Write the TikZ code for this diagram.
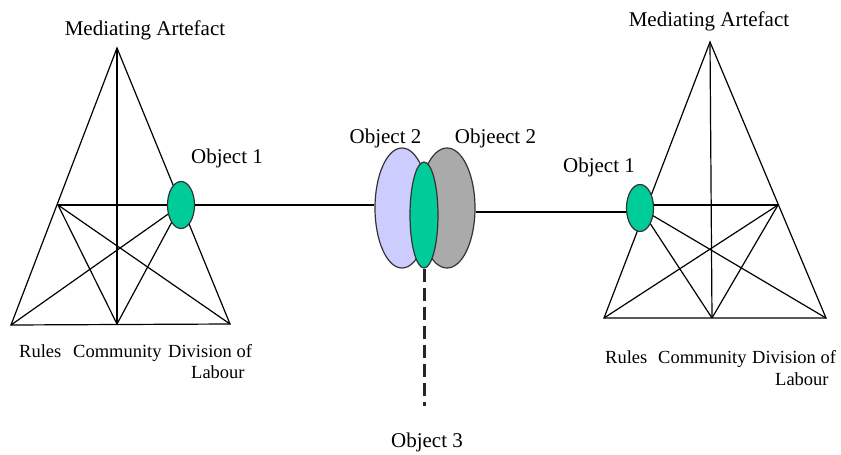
\documentclass[tikz,border=0pt]{standalone}
\usepackage{fontspec}
\setmainfont{Liberation Serif}
\newfontfamily\tnr{Liberation Serif}
\usetikzlibrary{shapes.geometric}
\definecolor{objgreen}{RGB}{0,204,153}
\definecolor{lav}{RGB}{204,204,255}
\definecolor{gry}{RGB}{170,170,170}
\begin{document}
\begin{tikzpicture}[x=1pt,y=-1pt,
  ln/.style={line width=1.2pt, black},
  ell/.style={ellipse, draw=black!80, line width=1.2pt, inner sep=0pt},
  obj/.style={ell, fill=objgreen, minimum width=27pt, minimum height=47pt},
  big/.style={font=\tnr\fontsize{21}{24}\selectfont, inner sep=0pt, anchor=base},
  small/.style={font=\tnr\fontsize{18.5}{22}\selectfont, inner sep=0pt, anchor=base west}]
\useasboundingbox (0,0) rectangle (841,455);

% ---- left triangle
\coordinate (A1) at (117,48);
\coordinate (R1) at (11,325);
\coordinate (C1) at (117,324);
\coordinate (D1) at (230,324);
\coordinate (S1) at (58,205);
\coordinate (o1) at (181,205);
\draw[ln] (A1) -- (R1) -- (D1) -- cycle;
\draw[ln] (A1) -- (C1);
\draw[ln] (S1) -- (o1);
\draw[ln] (S1) -- (C1);
\draw[ln] (S1) -- (D1);
\draw[ln] (R1) -- (o1);
\draw[ln] (C1) -- (o1);
\node[obj] (O1) at (o1) {};

% ---- right triangle
\coordinate (A2) at (710,42);
\coordinate (R2) at (604,318);
\coordinate (C2) at (712,318);
\coordinate (D2) at (826,318);
\coordinate (S2) at (778,205);
\coordinate (o2) at (640,208);
\draw[ln] (A2) -- (R2) -- (D2) -- cycle;
\draw[ln] (A2) -- (C2);
\draw[ln] (o2 |- S2) -- (S2);
\draw[ln] (S2) -- (R2);
\draw[ln] (S2) -- (C2);
\draw[ln] (o2) -- (C2);
\draw[ln] (o2) -- (D2);
\node[obj] (O2) at (o2) {};

% ---- centre
\node[ell, fill=lav, minimum width=54pt, minimum height=120pt] (L2) at (402,208) {};
\node[ell, fill=gry, minimum width=56pt, minimum height=120pt] (G2) at (447,208) {};
\node[ell, fill=objgreen, minimum width=28pt, minimum height=106pt] (M) at (424,215) {};
\draw[ln] (O1.east) -- (O1.east -| L2.west);
\draw[ln] ([yshift=-4pt]G2.east) -- ([yshift=-4pt]O2.west);
\coordinate (e3) at (424,406);
\draw[line width=3pt, black!85, dash pattern=on 13pt off 6pt] (M.south) -- (e3);

% ---- labels
\node[big] (ma1) at (145,35) {Mediating Artefact};
\node[big] (ma2) at (709,27) {Mediating Artefact};
\node[big] (ob1l) at (227,163) {Object 1};
\node[big] (ob1r) at (599,172) {Object 1};
\node[big] (ob2a) at (385.5,143) {Object 2};
\node[big] (ob2b) at (495.5,143) {Objeect 2};
\node[big] (ob3) at (427,447) {Object 3};

\node[small] (ru1) at (19,357) {Rules};
\node[small] (co1) at (73,357) {Community};
\node[small] (di1) at (168,357) {Division of};
\node[small] (la1) at (191,378) {Labour};
\node[small] (ru2) at (605,363) {Rules};
\node[small] (co2) at (658,363) {Community};
\node[small] (di2) at (752,363) {Division of};
\node[small] (la2) at (775,385) {Labour};
\end{tikzpicture}
\end{document}
